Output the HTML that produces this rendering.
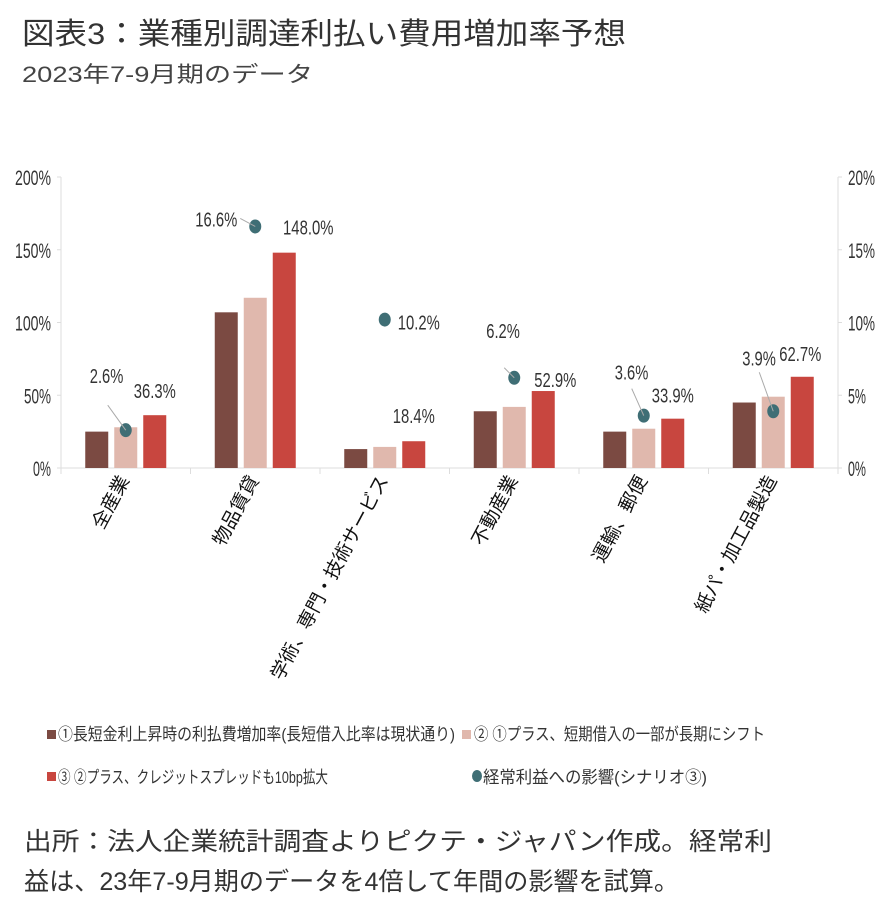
<!DOCTYPE html>
<html><head><meta charset="utf-8"><style>
body{margin:0;background:#fff;}
svg{display:block;font-family:"Liberation Sans","Noto Sans CJK JP",sans-serif;}
.num{font-family:"Liberation Sans",sans-serif;fill:#333;}
</style></head><body>
<svg id="chart" width="884" height="904" viewBox="0 0 884 904" xmlns="http://www.w3.org/2000/svg">
<text x="22" y="44" font-size="30" fill="#333" textLength="604" lengthAdjust="spacingAndGlyphs">図表3：業種別調達利払い費用増加率予想</text>
<text x="22" y="82" font-size="22" fill="#444" textLength="291" lengthAdjust="spacingAndGlyphs">2023年7-9月期のデータ</text>
<g id="axes"></g>
<g id="marks"></g>
<g id="labels"></g>
<g>
<rect x="47" y="730" width="9" height="9" fill="#7b4a42"/>
<text x="58" y="740" font-size="17" fill="#333" textLength="397" lengthAdjust="spacingAndGlyphs">①長短金利上昇時の利払費増加率(長短借入比率は現状通り)</text>
<rect x="462" y="730" width="9" height="9" fill="#e0b8ad"/>
<text x="474" y="740" font-size="17" fill="#333" textLength="291" lengthAdjust="spacingAndGlyphs">② ①プラス、短期借入の一部が長期にシフト</text>
<rect x="47" y="772" width="9" height="9" fill="#c8463f"/>
<text x="58" y="783" font-size="17" fill="#333" textLength="270" lengthAdjust="spacingAndGlyphs">③ ②プラス、クレジットスプレッドも10bp拡大</text>
<ellipse cx="477" cy="776" rx="5" ry="6" fill="#3f6e75"/>
<text x="483" y="783" font-size="17" fill="#333" textLength="224" lengthAdjust="spacingAndGlyphs">経常利益への影響(シナリオ③)</text>
</g>
<text x="24" y="850" font-size="25" fill="#333" textLength="748" lengthAdjust="spacingAndGlyphs">出所：法人企業統計調査よりピクテ・ジャパン作成。経常利</text>
<text x="24" y="890" font-size="25" fill="#333" textLength="655" lengthAdjust="spacingAndGlyphs">益は、23年7-9月期のデータを4倍して年間の影響を試算。</text>
</svg>
<script>
const categories=["全産業","物品賃貸","学術、専門・技術サービス","不動産業","運輸、郵便","紙パ・加工品製造"];
const series1=[25,107,13,39,25,45];
const series2=[28,117,14.5,42,27,49];
const series3=[36.3,148.0,18.4,52.9,33.9,62.7];
const impact=[2.6,16.6,10.2,6.2,3.6,3.9];
const leftTicks=[0,50,100,150,200];
const rightTicks=[0,5,10,15,20];

const NS="http://www.w3.org/2000/svg";
const X0=61,X1=838,Y0=468,Y1=177;
const catW=(X1-X0)/categories.length;
const yL=v=>Y0-(v/200)*(Y0-Y1);
const yR=v=>Y0-(v/20)*(Y0-Y1);
const xC=i=>X0+catW*(i+0.5);
function mk(tag,attrs,parent,text){const e=document.createElementNS(NS,tag);for(const k in attrs)e.setAttribute(k,attrs[k]);if(text!==undefined)e.textContent=text;parent.appendChild(e);return e;}
const axes=document.getElementById('axes'),marks=document.getElementById('marks'),labels=document.getElementById('labels');
const tl=s=>s.length*8.4;
const tt=s=>s.length*9;

let e=mk('line',{x1:X0,y1:Y1,x2:X0,y2:Y0,stroke:'#ddd'},axes);


e=mk('line',{x1:X1,y1:Y1,x2:X1,y2:Y0,stroke:'#ddd'},axes);


e=mk('line',{x1:X0,y1:Y0,x2:X1,y2:Y0,stroke:'#ddd'},axes);


leftTicks.forEach(t=>{
  const s=t+'%';
  mk('line',{x1:X0-4,y1:yL(t),x2:X0,y2:yL(t),stroke:'#ddd'},axes);
  e=mk('text',{x:X0-10,y:yL(t)+8,'text-anchor':'end','font-size':21,class:'num',fill:'#555',textLength:tt(s),lengthAdjust:'spacingAndGlyphs'},axes,s);
  
  
});
rightTicks.forEach(t=>{
  const s=t+'%';
  mk('line',{x1:X1,y1:yR(t),x2:X1+4,y2:yR(t),stroke:'#ddd'},axes);
  e=mk('text',{x:X1+10,y:yR(t)+8,'font-size':21,class:'num',fill:'#555',textLength:tt(s),lengthAdjust:'spacingAndGlyphs'},axes,s);
  
  
});
for(let i=0;i<=categories.length;i++){mk('line',{x1:X0+catW*i,y1:Y0,x2:X0+catW*i,y2:Y0+6,stroke:'#ddd'},axes);}
categories.forEach((c,i)=>{
  const x=xC(i)+4,y=Y0+12;
  e=mk('text',{x:x,y:y,'text-anchor':'end','font-size':19,fill:'#111',transform:`rotate(-62 ${x} ${y})`},axes,c);
  
  
});

const bw=23,off=[-29,0,29],cols=['#7b4a42','#e0b8ad','#c8463f'],sers=[series1,series2,series3];
sers.forEach((s,k)=>s.forEach((v,i)=>{
  const r=mk('rect',{x:xC(i)+off[k]-bw/2,y:yL(v),width:bw,height:Y0-yL(v),fill:cols[k]},marks);
  
  
}));

// label layout offsets (not data)
const dotLab=[[-36,-47],[-60,0],[13,10],[-28,-40],[-29,-36],[-31,-46]];
const leader=[[-18,-25],[-15,-8],null,[-10,-10],[-12,-27],[-14,-39]];
const redLab=[[0,-17],[24,-18],[0,-18],[12,-4],[0,-16],[-2,-16]];
impact.forEach((v,i)=>{
  const cx=xC(i),cy=yR(v),s=v.toFixed(1)+'%';
  if(leader[i]) mk('line',{x1:cx+leader[i][0],y1:cy+leader[i][1],x2:cx,y2:cy,stroke:'#aaa'},labels);
  e=mk('ellipse',{cx:cx,cy:cy,rx:6,ry:7,fill:'#3f6e75'},marks);
  
  
  e=mk('text',{x:cx+dotLab[i][0],y:cy+dotLab[i][1],'font-size':20,class:'num',textLength:tl(s),lengthAdjust:'spacingAndGlyphs'},labels,s);
  
  
});
series3.forEach((v,i)=>{
  const s=v.toFixed(1)+'%';
  const x=xC(i)+29+redLab[i][0],y=yL(v)+redLab[i][1];
  e=mk('text',{x:x-tl(s)/2,y:y,'font-size':20,class:'num',textLength:tl(s),lengthAdjust:'spacingAndGlyphs'},labels,s);
  
  
});
</script>
</body></html>
